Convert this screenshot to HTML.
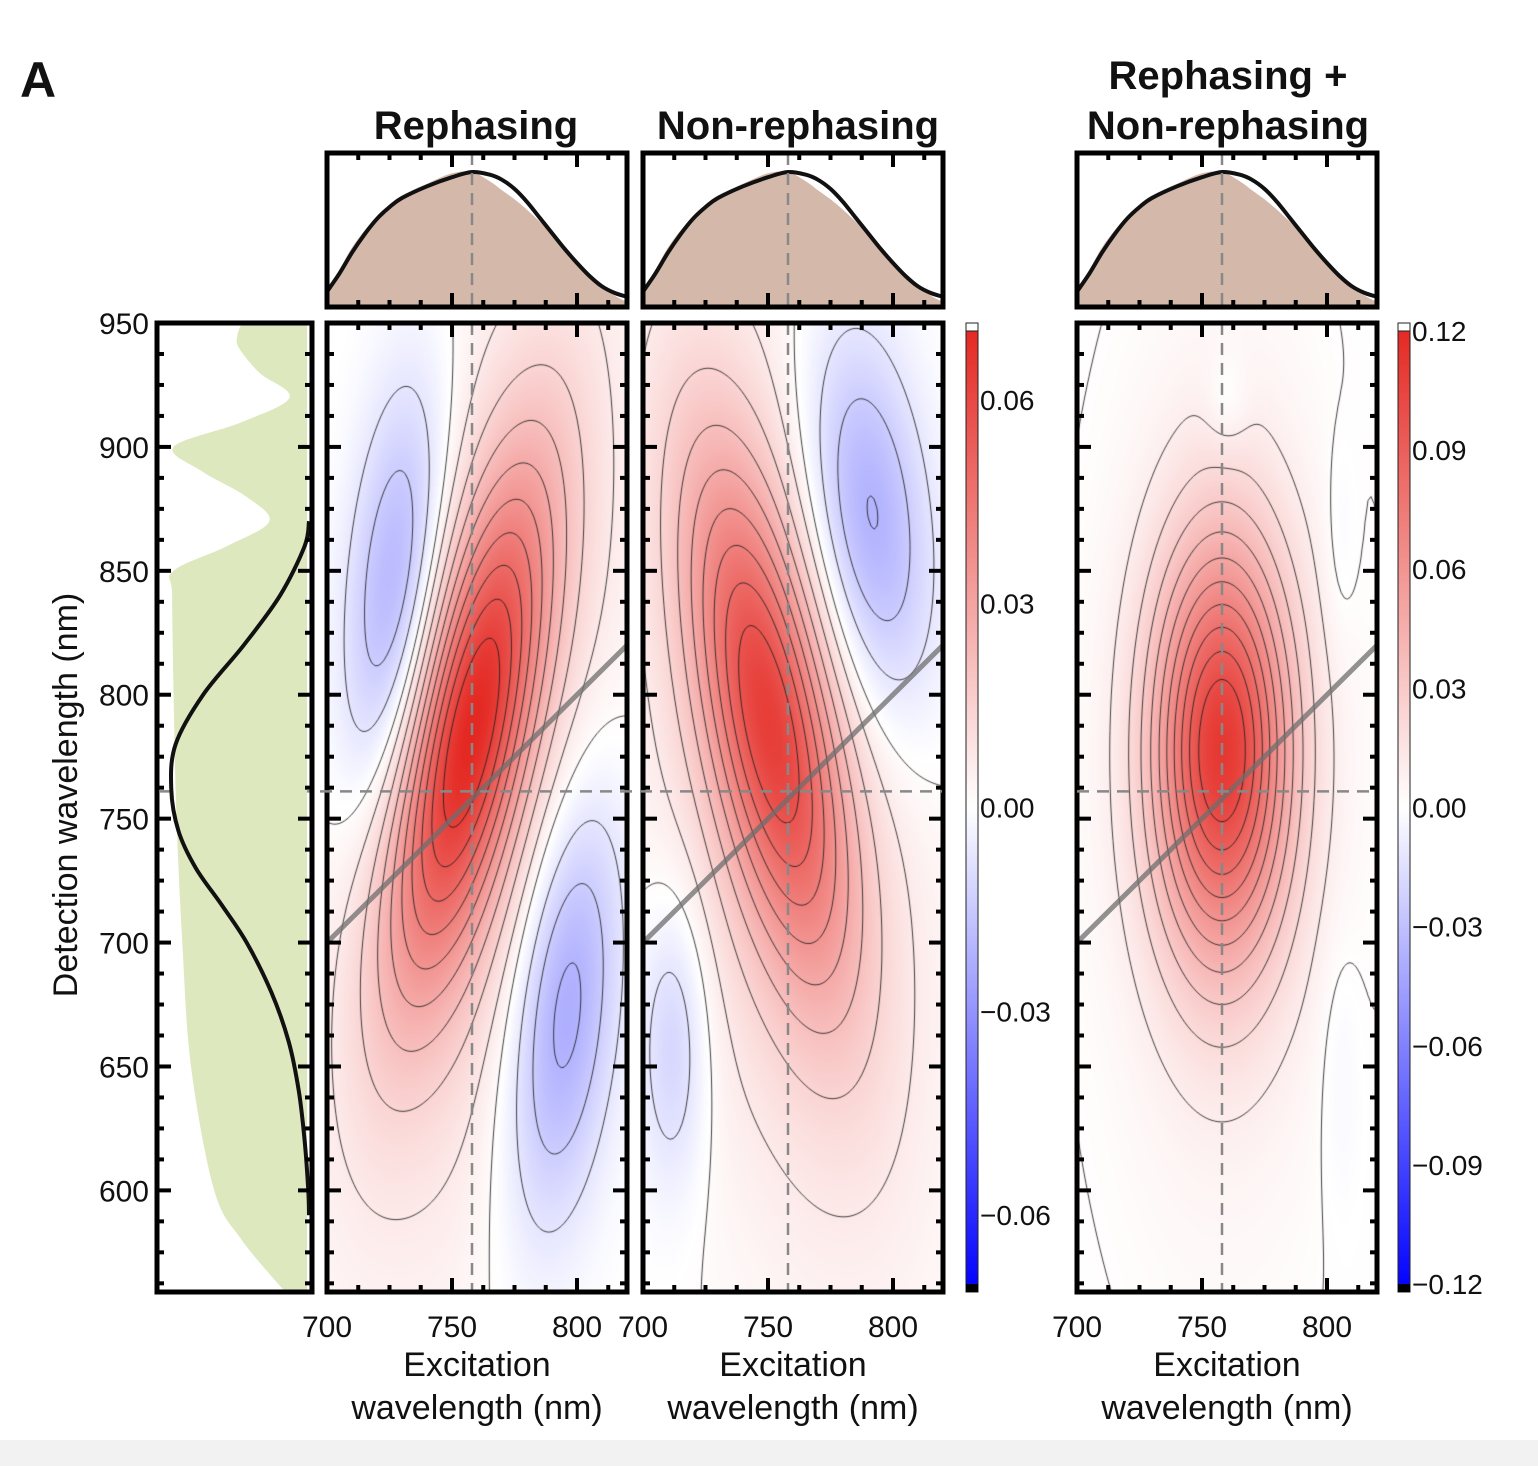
<!DOCTYPE html>
<html><head><meta charset="utf-8">
<style>
html,body{margin:0;padding:0;background:#fff;}
#root{position:relative;width:1538px;height:1466px;overflow:hidden;background:#fff;font-family:"Liberation Sans",sans-serif;}
canvas{position:absolute;}
svg{position:absolute;left:0;top:0;}
.strip{position:absolute;left:0;top:1440px;width:1538px;height:26px;background:#f2f2f2;}
</style></head>
<body>
<div id="root">
<canvas id="h1" style="left:327px;top:323px" width="300" height="969"></canvas>
<canvas id="h2" style="left:643px;top:323px" width="300" height="969"></canvas>
<canvas id="h3" style="left:1077px;top:323px" width="300" height="969"></canvas>
<svg id="ov" width="1538" height="1466"></svg>
<div class="strip"></div>
</div>
<script>
// ---- data ----
// Gaussian components: [exCenter, detCenter, sigmaEx, sigmaDet, rho, amplitude]
const rephasingPeaks = [[757,785,22,72,0.65,0.058],[760,770,40,140,0.45,0.014],[727,840,15,62,0.35,-0.026],[795,675,16,62,0.35,-0.027]];
const nonrephasingPeaks = [[750,790,22,72,-0.6,0.05],[755,770,40,140,-0.4,0.014],[790,870,18,55,-0.3,-0.026],[712,660,10,42,0,-0.014]];
const sumPeaks = [[758,778,19,58,0,0.1],[758,760,30,120,0,0.012],[760,918,6,14,0,-0.008],[805,860,5,30,0,-0.005],[805,650,6,40,0,-0.005]];
const levels1 = [-0.021,-0.014,-0.007,0.001,0.007,0.014,0.021,0.028,0.035,0.042,0.049,0.056,0.063];
const levels2 = [-0.021,-0.014,-0.007,0.001,0.007,0.014,0.021,0.028,0.035,0.042,0.049,0.056];
const levels3 = [0.001,0.01,0.02,0.03,0.04,0.05,0.06,0.07,0.08,0.09,0.1];
const cbar1Ticks = [0.06,0.03,0.00,-0.03,-0.06];
const cbar2Ticks = [0.12,0.09,0.06,0.03,0.00,-0.03,-0.06,-0.09,-0.12];
const xTicks = [700,750,800];
const yTicks = [950,900,850,800,750,700,650,600];
const exWl = [700,705,710,715,720,725,730,740,750,758,765,770,775,780,785,790,795,800,805,810,815,820];
const excLine = [0.08,0.22,0.38,0.52,0.64,0.73,0.8,0.89,0.96,1.0,0.98,0.94,0.87,0.77,0.65,0.53,0.41,0.3,0.2,0.12,0.07,0.04];
const excFill = [0.1,0.25,0.42,0.55,0.66,0.75,0.82,0.91,0.99,1.0,0.93,0.86,0.79,0.71,0.62,0.52,0.42,0.32,0.22,0.13,0.05,0.0];
const detWlG = [950,945,940,930,920,910,900,890,880,870,860,850,840,800,750,700,650,600,580,559];
const absorb = [0.45,0.48,0.47,0.33,0.12,0.45,0.92,0.72,0.42,0.26,0.55,0.92,0.93,0.92,0.9,0.86,0.8,0.64,0.45,0.15];
const detWlL = [870,860,840,820,800,780,762,745,730,715,700,680,660,640,620,600,590];
const laser = [0,0.03,0.2,0.45,0.73,0.92,0.95,0.9,0.78,0.6,0.43,0.26,0.14,0.07,0.03,0.005,0];

const NS='http://www.w3.org/2000/svg';
const ov=document.getElementById('ov');
function el(tag,attrs,parent){const e=document.createElementNS(NS,tag);for(const k in attrs)e.setAttribute(k,attrs[k]);(parent||ov).appendChild(e);return e;}
function txt(x,y,s,size,anchor,weight,name,rot){const t=el('text',{x:x,y:y,'font-size':size,'text-anchor':anchor||'middle','font-weight':weight||'normal','font-family':'Liberation Sans, sans-serif',fill:'#111'});if(rot)t.setAttribute('transform',rot);t.textContent=s;


return t;}
function smooth(pts){let d='M'+pts[0][0]+','+pts[0][1];for(let i=0;i<pts.length-1;i++){const p0=pts[Math.max(0,i-1)],p1=pts[i],p2=pts[i+1],p3=pts[Math.min(pts.length-1,i+2)];
 d+=` C${p1[0]+(p2[0]-p0[0])/6},${p1[1]+(p2[1]-p0[1])/6} ${p2[0]-(p3[0]-p1[0])/6},${p2[1]-(p3[1]-p1[1])/6} ${p2[0]},${p2[1]}`;}return d;}

const Y0=323,Y1=1292,DMAX=950,DMIN=559;
const yDet=d=>Y0+(DMAX-d)/(DMAX-DMIN)*(Y1-Y0);
const panels=[{x0:327,x1:627,peaks:rephasingPeaks,levels:levels1,vmax:0.0713,cv:'h1',name:'rephasing'},
 {x0:643,x1:943,peaks:nonrephasingPeaks,levels:levels2,vmax:0.0713,cv:'h2',name:'nonrephasing'},
 {x0:1077,x1:1377,peaks:sumPeaks,levels:levels3,vmax:0.122,cv:'h3',name:'sum'}];
function f(peaks,ex,d){let s=0;for(const p of peaks){const dx=(ex-p[0])/p[2],dy=(d-p[1])/p[3],r=p[4];s+=p[5]*Math.exp(-(dx*dx-2*r*dx*dy+dy*dy)/(2*(1-r*r)));}return s;}
function color(t){t=Math.max(-1,Math.min(1,t));if(t>=0)return [255-(255-228)*t,255-(255-38)*t,255-(255-32)*t];const u=-t;return [255-255*u,255-255*u,255];}

for(const P of panels){
 const cv=document.getElementById(P.cv),ctx=cv.getContext('2d');const W=cv.width,H=cv.height;
 const exAt=x=>700+x/W*120, detAt=y=>DMAX-y/H*(DMAX-DMIN);
 const img=ctx.createImageData(W,H);
 for(let y=0;y<H;y++)for(let x=0;x<W;x++){const c=color(f(P.peaks,exAt(x),detAt(y))/P.vmax);const i=(y*W+x)*4;img.data[i]=c[0];img.data[i+1]=c[1];img.data[i+2]=c[2];img.data[i+3]=255;}
 ctx.putImageData(img,0,0);
 const st=3,nx=Math.ceil(W/st)+1,ny=Math.ceil(H/st)+1;const g=[];
 for(let j=0;j<ny;j++){g.push([]);for(let i=0;i<nx;i++)g[j].push(f(P.peaks,exAt(i*st),detAt(j*st)));}
 ctx.strokeStyle='rgba(30,30,30,0.85)';ctx.lineWidth=1;
 for(const L of P.levels){ctx.beginPath();
  for(let j=0;j<ny-1;j++)for(let i=0;i<nx-1;i++){
   const a=g[j][i],b=g[j][i+1],c=g[j+1][i+1],d=g[j+1][i];const pts=[];
   const ip=(v1,v2)=>(L-v1)/(v2-v1);
   if((a>L)!=(b>L))pts.push([(i+ip(a,b))*st,j*st]);
   if((b>L)!=(c>L))pts.push([(i+1)*st,(j+ip(b,c))*st]);
   if((d>L)!=(c>L))pts.push([(i+ip(d,c))*st,(j+1)*st]);
   if((a>L)!=(d>L))pts.push([i*st,(j+ip(a,d))*st]);
   for(let k=0;k+1<pts.length;k+=2){ctx.moveTo(pts[k][0],pts[k][1]);ctx.lineTo(pts[k+1][0],pts[k+1][1]);}
  }ctx.stroke();}
}

function ticks(x0,x1,y0,y1,vert){
 const g=el('g',{stroke:'#000','stroke-width':4});
 for(let k=0;k<=9;k++){const wl=700+k*12.5;const x=x0+(wl-700)/120*(x1-x0);if(x<=x0+2||x>=x1-2)continue;const L=(k%4==0)?14:7;
  el('line',{x1:x,y1:y0,x2:x,y2:y0+L},g);el('line',{x1:x,y1:y1,x2:x,y2:y1-L},g);}
 if(vert){for(let k=1;k<32;k++){const d=DMAX-k*12.5;if(d<=DMIN)break;const y=yDet(d);const L=(k%4==0)?14:7;
  el('line',{x1:x0,y1:y,x2:x0+L,y2:y},g);el('line',{x1:x1,y1:y,x2:x1-L,y2:y},g);}}
 el('rect',{x:x0,y:y0,width:x1-x0,height:y1-y0,fill:'none',stroke:'#000','stroke-width':5});
}

const exX=(P,e)=>P.x0+(e-700)/120*(P.x1-P.x0);
panels.forEach((P,idx)=>{
 const g=el('g',{});
 
 
 el('line',{x1:exX(P,700),y1:yDet(700),x2:P.x1,y2:yDet(820),stroke:'rgba(110,110,110,0.75)','stroke-width':5},g);
 el('line',{x1:exX(P,758),y1:Y0,x2:exX(P,758),y2:Y1,stroke:'#888','stroke-width':2.5,'stroke-dasharray':'12 8'},g);
 ticks(P.x0,P.x1,Y0,Y1,true);
 const T0=153,T1=307;const vy=v=>302-v*(302-172);
 const fp=exWl.map((w,i)=>[exX(P,w),vy(excFill[i])]);
 const fill=el('path',{d:smooth(fp)+` L${P.x1},${T1} L${P.x0},${T1} Z`,fill:'#d4b8aa'});
 
 
 const lpnts=exWl.map((w,i)=>[exX(P,w),vy(excLine[i])]);
 const line=el('path',{d:smooth(lpnts),fill:'none',stroke:'#111','stroke-width':4,'stroke-linejoin':'round'});
 
 
 el('line',{x1:exX(P,758),y1:T0,x2:exX(P,758),y2:T1,stroke:'#888','stroke-width':2.5,'stroke-dasharray':'12 8'});
 ticks(P.x0,P.x1,T0,T1,false);
 xTicks.forEach(w=>txt(exX(P,w),1337,String(w),30,'middle','normal','x-tick-label'));
 const cx=(P.x0+P.x1)/2;
 txt(cx,1376,'Excitation',34,'middle','normal','x-axis-title');
 txt(cx,1419,'wavelength (nm)',34,'middle','normal','x-axis-title');
});
el('line',{x1:160,y1:yDet(761),x2:942,y2:yDet(761),stroke:'#888','stroke-width':2.5,'stroke-dasharray':'12 8'});
el('line',{x1:1077,y1:yDet(761),x2:1377,y2:yDet(761),stroke:'#888','stroke-width':2.5,'stroke-dasharray':'12 8'});

const LX0=157,LX1=312,LW=307-162;
const gpts=detWlG.map((d,i)=>[307-absorb[i]*LW,yDet(d)]);
const gpath=el('path',{d:`M307,${Y0} L${gpts[0][0]},${Y0} `+smooth(gpts).replace(/^M/,'L')+` L307,${Y1} Z`,fill:'#dde8bf'});


const lpts=detWlL.map((d,i)=>[309-laser[i]*LW,yDet(d)]);
const lpath=el('path',{d:smooth(lpts),fill:'none',stroke:'#111','stroke-width':4});


(function(){const g=el('g',{stroke:'#000','stroke-width':4});for(let k=1;k<32;k++){const d=DMAX-k*12.5;if(d<=DMIN)break;const y=yDet(d);const L=(k%4==0)?14:7;el('line',{x1:LX0,y1:y,x2:LX0+L,y2:y},g);el('line',{x1:LX1,y1:y,x2:LX1-L,y2:y},g);}
el('rect',{x:LX0,y:Y0,width:LX1-LX0,height:Y1-Y0,fill:'none',stroke:'#000','stroke-width':5});})();
yTicks.forEach(d=>txt(149,yDet(d)+11,String(d),30,'end','normal','y-tick-label'));
txt(0,0,'Detection wavelength (nm)',34,'middle','normal','y-axis-title','translate(77,795) rotate(-90)');

const defs=el('defs',{});
const lg=el('linearGradient',{id:'cb',x1:0,y1:0,x2:0,y2:1},defs);
el('stop',{offset:'0','stop-color':'#e42620'},lg);el('stop',{offset:'0.5','stop-color':'#ffffff'},lg);el('stop',{offset:'1','stop-color':'#0000ff'},lg);
function cbar(x,vmax,ticksArr,name){const g=el('g',{});
 
 
 el('rect',{x:x,y:Y0,width:12,height:Y1-Y0,fill:'url(#cb)',stroke:'#222','stroke-width':1},g);
 el('rect',{x:x,y:Y0,width:12,height:8,fill:'#fff',stroke:'#222','stroke-width':1},g);
 el('rect',{x:x,y:Y1-8,width:12,height:8,fill:'#000'},g);
 const mid=(Y0+Y1)/2,half=(Y1-Y0)/2;
 ticksArr.forEach(v=>{const y=mid-v/vmax*half;txt(x+14,y+10,(v<0?'\u2212':'')+Math.abs(v).toFixed(2),28,'start','normal','colorbar-tick-label');});}
cbar(966,0.0713,cbar1Ticks,'colorbar-1');
cbar(1398,0.122,cbar2Ticks,'colorbar-2');

txt(38,97,'A',50,'middle','bold','panel-label');
txt(476,139,'Rephasing',40,'middle','bold','rephasing-title');
txt(798,139,'Non-rephasing',40,'middle','bold','nonrephasing-title');
txt(1228,89,'Rephasing +',40,'middle','bold','sum-title');
txt(1228,139,'Non-rephasing',40,'middle','bold','sum-title');
</script>
</body></html>
